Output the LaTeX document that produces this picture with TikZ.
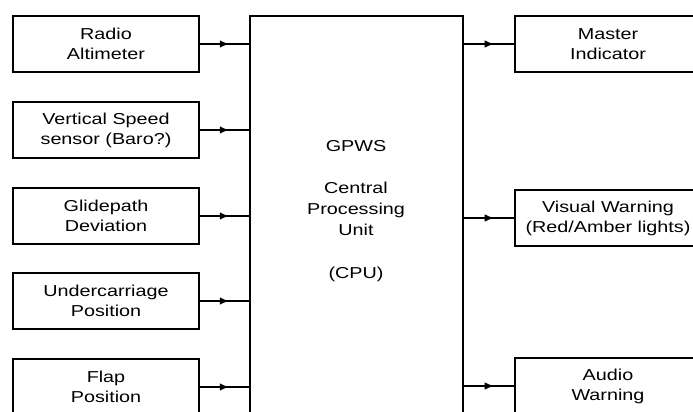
\documentclass[tikz,border=0pt]{standalone}
\usepackage{fontspec}
\setmainfont{Liberation Sans}
\newfontfamily\boxfont[FakeStretch=1.25]{Liberation Sans}
\usetikzlibrary{arrows.meta,decorations.markings}

\begin{document}
\begin{tikzpicture}[x=0.03cm,y=-0.03cm,line width=1.4pt,
    blk/.style={draw,line width=1.9pt,minimum width=5.58cm,minimum height=1.68cm,
      inner sep=0pt,align=center,font=\boxfont\fontsize{13.5pt}{17pt}\selectfont},
    feed/.style={line width=1.5pt,postaction={decorate},
      decoration={markings,mark=at position 0.6 with {\arrow{Latex[length=8pt,width=6.5pt]}}}}]

        \useasboundingbox (0,0) rectangle (693,411);
        \clip (0,0) rectangle (693,411);

        % ------------------------------------------------ sensor inputs
        \node[blk] (radio)  at (106,44)  {Radio\\Altimeter};
        \node[blk] (vspeed) at (106,130) {Vertical Speed\\sensor (Baro?)};
        \node[blk] (glide)  at (106,216) {Glidepath\\Deviation};
        \node[blk] (gear)   at (106,301) {Undercarriage\\Position};
        \node[blk] (flap)   at (106,387) {Flap\\Position};

        % ------------------------------------------------ central unit
        \node[draw,line width=2.4pt,minimum width=6.39cm,minimum height=12.72cm] (cpu) at (356.5,228) {};
        \node[align=center,font=\boxfont\fontsize{13.5pt}{18pt}\selectfont] (cpulabel) at (356,211)
        {GPWS\\[18pt]Central\\Processing\\Unit\\[18pt](CPU)};

        % ------------------------------------------------ warning outputs
        \node[blk] (master) at (608,44)  {Master\\Indicator};
        \node[blk] (visual) at (608,218) {Visual Warning\\(Red/Amber lights)};
        \node[blk] (audio)  at (608,386) {Audio\\Warning};

        % inputs into the CPU
        \foreach \src in {radio,vspeed,glide,gear,flap}
          \draw[feed] (\src.east) -- (\src.east -| cpu.west);

        % CPU out to the warnings
        \foreach \dst in {master,visual,audio}
          \draw[feed] (\dst.west -| cpu.east) -- (\dst.west);

\end{tikzpicture}
\end{document}
